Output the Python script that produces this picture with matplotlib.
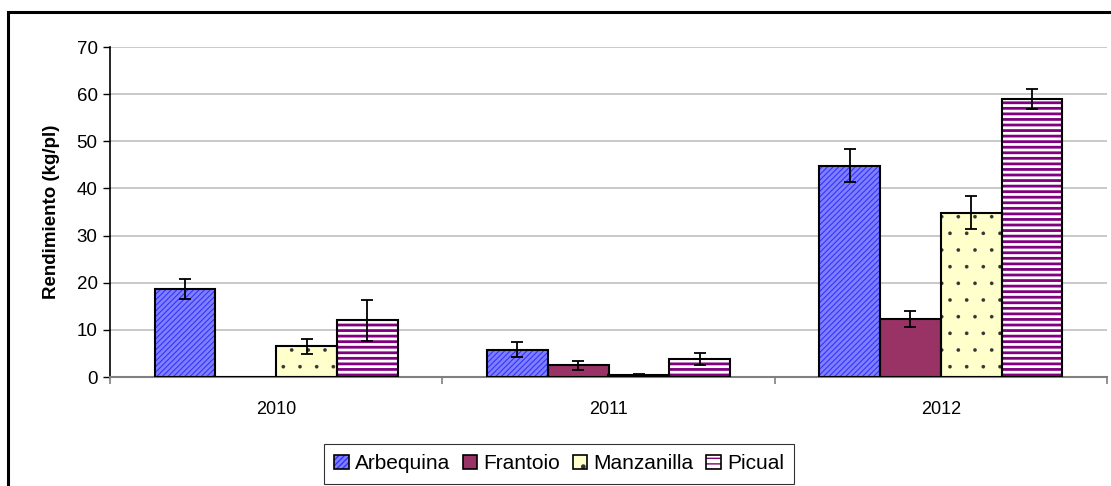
import numpy as np
import matplotlib as mpl
import matplotlib.pyplot as plt
from matplotlib.patches import Patch, Rectangle
from matplotlib.legend_handler import HandlerTuple

plt.rcParams['font.family'] = ['Liberation Sans', 'DejaVu Sans']

years = ['2010', '2011', '2012']
cultivars = ['Arbequina', 'Frantoio', 'Manzanilla', 'Picual']
arbequina = [18.6, 5.8, 44.8]
arbequina_err = [2.1, 1.6, 3.5]
frantoio = [0.0, 2.5, 12.4]
frantoio_err = [np.nan, 1.0, 1.7]
manzanilla = [6.5, 0.5, 34.8]
manzanilla_err = [1.6, 0.2, 3.5]
picual = [12.0, 3.8, 58.9]
picual_err = [4.3, 1.2, 2.1]

values = [arbequina, frantoio, manzanilla, picual]
errors = [arbequina_err, frantoio_err, manzanilla_err, picual_err]
# (face colour, hatch, hatch colour, hatch linewidth)
styles = [('#8080ff', '//////', '#3333ff', 0.8),
          ('#993366', '', '#993366', 0.8),
          ('#ffffcc', '.', '#333333', 0.2),
          ('#ffffff', '---', '#800080', 2.0)]

fig = plt.figure(figsize=(11.11, 4.86), dpi=100)
ax = fig.add_axes([110 / 1111, 1 - 377 / 486, 997 / 1111, 330 / 486])

x = np.arange(len(years))
w = 0.1826
handles = []
for i, (vals, errs, (fc, hatch, hc, hlw)) in enumerate(zip(values, errors, styles)):
    pos = x + (i - 1.5) * w
    with mpl.rc_context({'hatch.linewidth': hlw}):
        ax.bar(pos, vals, w, color=fc, edgecolor=hc, hatch=hatch, linewidth=0, zorder=2)
    ax.bar(pos, vals, w, fill=False, edgecolor='black', linewidth=1.5, zorder=3)
    ax.errorbar(pos, vals, yerr=errs, fmt='none', ecolor='black', elinewidth=1.3,
                capsize=4.5, capthick=1.3, zorder=4)
    with mpl.rc_context({'hatch.linewidth': hlw}):
        h_fill = Patch(facecolor=fc, edgecolor=hc, hatch=hatch, linewidth=0)
    h_edge = Patch(facecolor='none', edgecolor='black', linewidth=1.2)
    handles.append((h_fill, h_edge))

ax.set_xlim(-0.5, 2.5)
ax.set_ylim(0, 70)
ax.set_yticks(range(0, 71, 10))
ax.set_xticks(x)
ax.set_xticklabels(years)
ax.set_xticks([-0.5, 0.5, 1.5, 2.5], minor=True)
ax.tick_params(axis='x', which='major', length=0, pad=17, labelsize=13)
ax.tick_params(axis='x', which='minor', length=5, color='#808080', width=1.2)
ax.tick_params(axis='y', length=5, width=1, labelsize=13.5, pad=4)
ax.grid(axis='y', color='#c0c0c0', linewidth=1.2, zorder=0)
ax.set_axisbelow(True)
for s in ['top', 'right']:
    ax.spines[s].set_visible(False)
ax.spines['left'].set_color('black')
ax.spines['left'].set_linewidth(1.2)
ax.spines['bottom'].set_color('#808080')
ax.spines['bottom'].set_linewidth(1.5)
ax.set_ylabel('Rendimiento (kg/pl)', fontsize=13.5, fontweight='bold', labelpad=12)

leg = fig.legend(handles, cultivars, handler_map={tuple: HandlerTuple(ndivide=1)},
                 loc='upper center', bbox_to_anchor=(559 / 1111, 1 - 444 / 486),
                 ncol=4, fontsize=15, frameon=True, fancybox=False,
                 handlelength=0.7, handleheight=0.7, handletextpad=0.3,
                 columnspacing=0.6, borderpad=0.5, borderaxespad=0)
leg.get_frame().set_edgecolor('black')
leg.get_frame().set_linewidth(0.8)

# outer chart border (cut off at right and bottom)
fig.patches.append(Rectangle((8 / 1111, -0.2), 1.5, 0.2 + 1 - 12 / 486,
                             transform=fig.transFigure, fill=False,
                             edgecolor='black', linewidth=2.2))

fig.savefig('out.png', dpi=100)
